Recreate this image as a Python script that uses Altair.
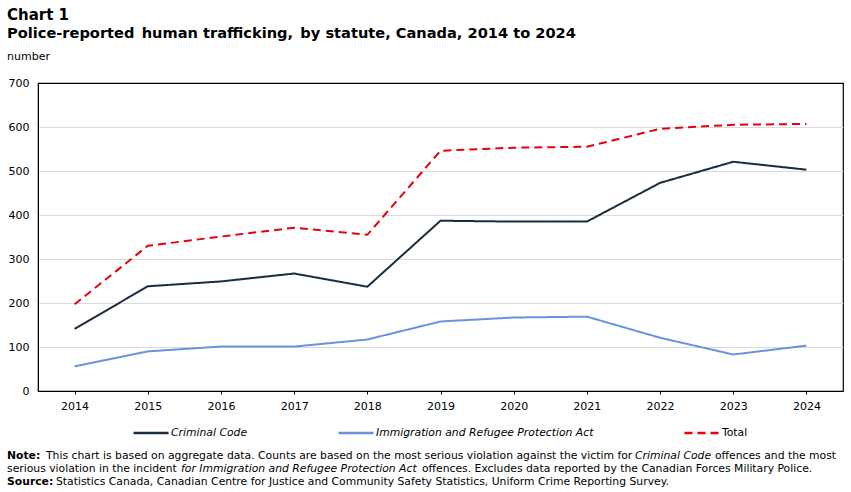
import altair as alt
import pandas as pd

# Police-reported human trafficking counts by statute
years = ["2014", "2015", "2016", "2017", "2018", "2019", "2020", "2021", "2022", "2023", "2024"]
criminal_code = [141, 238, 249, 267, 237, 387, 385, 385, 473, 521, 503]
irpa = [56, 90, 101, 101, 117, 158, 167, 169, 121, 83, 103]
total = [197, 330, 351, 371, 355, 546, 553, 555, 596, 605, 607]

series_names = ["Criminal Code", "Immigration and Refugee Protection Act", "Total"]
series_colors = ["#1b2b40", "#6d91e0", "#e8000b"]
series_dashes = [[1, 0], [1, 0], [8, 5]]

rows = []
for name, values in zip(series_names, [criminal_code, irpa, total]):
    for yr, v in zip(years, values):
        rows.append({"year": yr, "value": v, "series": name})
df = pd.DataFrame(rows)

FONT = "DejaVu Sans"
NOTE_SIZE = 10.8

lines = alt.Chart(df).mark_line(strokeWidth=2, clip=False).encode(
    x=alt.X("year:O", sort=years, scale=alt.Scale(type="point", padding=0.5),
            axis=alt.Axis(title=None, labelAngle=0, tickSize=3, tickColor="#000000",
                          domainColor="#000000", labelPadding=6, grid=False)),
    y=alt.Y("value:Q", scale=alt.Scale(domain=[0, 700], nice=False),
            axis=alt.Axis(title=None, values=[0, 100, 200, 300, 400, 500, 600, 700],
                          tickSize=0, labelPadding=9, domainColor="#000000",
                          gridColor={"condition": {"test": "datum.value === 700", "value": "#000000"},
                                     "value": "#d9d9d9"},
                          grid=True)),
    color=alt.Color("series:N", sort=series_names,
                    scale=alt.Scale(domain=series_names, range=series_colors),
                    legend=alt.Legend(title=None)),
    strokeDash=alt.StrokeDash("series:N", sort=series_names,
                              scale=alt.Scale(domain=series_names, range=series_dashes),
                              legend=alt.Legend(title=None)),
)


def note(text, x, y, size=NOTE_SIZE, weight="normal", style="normal"):
    return alt.Chart(alt.Data(values=[{"t": text}])).mark_text(
        align="left", baseline="alphabetic", font=FONT, fontSize=size,
        fontWeight=weight, fontStyle=style, color="#000000",
    ).encode(x=alt.value(x), y=alt.value(y), text="t:N")


texts = [
    note("Chart 1", -31, -63, size=15, weight="bold"),
    note("Police-reported\u2002human trafficking,\u2002by statute, Canada, 2014 to 2024", -31, -45, size=14.6, weight="bold"),
    note("number", -31, -23, size=11),
    note("Note:", -31, 376, weight="bold"),
    note("This chart is based on aggregate data. Counts are based on the most serious violation against the victim for",
         8, 376),
    note("Criminal Code", 597, 376, style="italic"),
    note("offences and the most", 677, 376),
    note("serious violation in the incident", -31, 389),
    note("for Immigration and Refugee Protection Act", 143, 389, style="italic"),
    note("offences. Excludes data reported by the Canadian Forces Military Police.", 384, 389),
    note("Source:", -31, 402, weight="bold"),
    note("Statistics Canada, Canadian Centre for Justice and Community Safety Statistics, Uniform Crime Reporting Survey.",
         18, 402),
]

chart = alt.layer(lines, *texts).properties(
    width=805, height=308,
    padding={"left": 38, "top": 83, "right": 8, "bottom": 101},
    autosize=alt.AutoSizeParams(type="none"),
).configure(
    font=FONT,
    background="#ffffff",
).configure_view(
    stroke="#000000", strokeWidth=1.2,
).configure_axis(
    labelFont=FONT, labelFontSize=11, labelColor="#000000",
).configure_legend(
    orient="none", legendX=94, legendY=331, direction="horizontal",
    symbolType="stroke", symbolSize=1225, symbolStrokeWidth=2.5,
    labelFont=FONT, labelFontSize=10.8, labelColor="#000000", labelOffset=1,
    labelLimit=400, columnPadding=85,
    labelFontStyle={"expr": "datum.label == 'Total' ? 'normal' : 'italic'"},
)

chart.save("out.html", embed_options={"renderer": "svg", "actions": False})
